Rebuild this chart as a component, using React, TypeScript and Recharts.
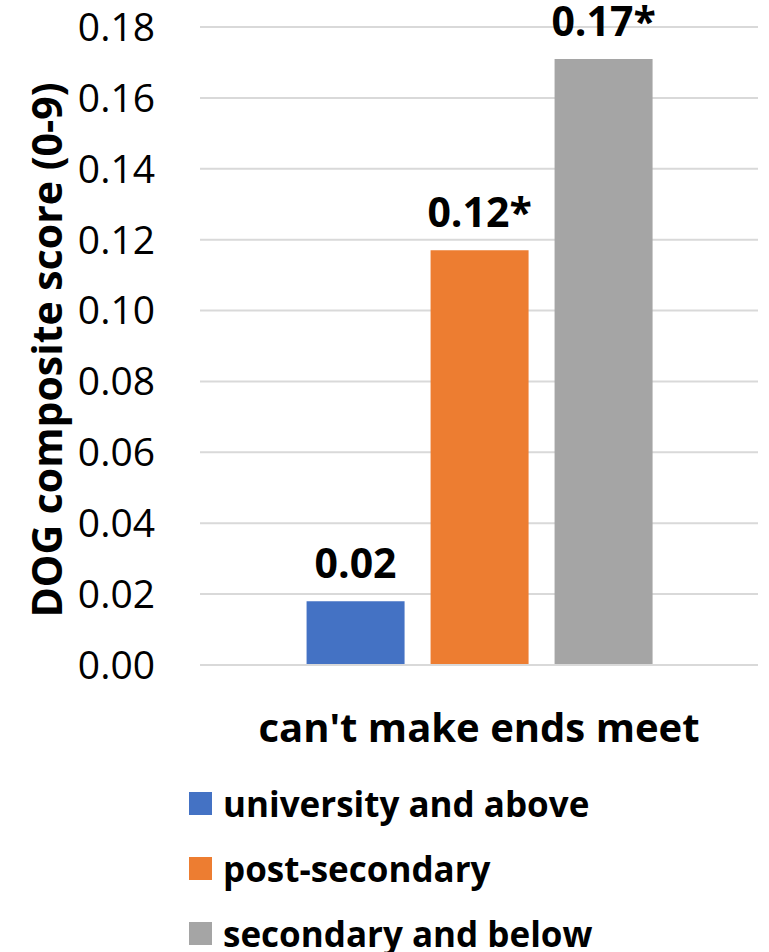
import React from "react";
import { BarChart, Bar, XAxis, YAxis, CartesianGrid, Legend, LabelList } from "recharts";

const categories = ["can't make ends meet"];
const seriesNames = ["university and above", "post-secondary", "secondary and below"];
const universityAndAbove = [0.018];
const postSecondary = [0.117];
const secondaryAndBelow = [0.171];
const universityLabels = ["0.02"];
const postSecondaryLabels = ["0.12*"];
const secondaryLabels = ["0.17*"];
const yTicks = [0, 0.02, 0.04, 0.06, 0.08, 0.1, 0.12, 0.14, 0.16, 0.18];
const colors = ["#4472C4", "#ED7D31", "#A5A5A5"];

const data = categories.map((c, i) => ({
  category: c,
  s0: universityAndAbove[i],
  s1: postSecondary[i],
  s2: secondaryAndBelow[i],
  l0: universityLabels[i],
  l1: postSecondaryLabels[i],
  l2: secondaryLabels[i],
}));

const FONT = "'Open Sans', 'Noto Sans', sans-serif";

const LegendContent = () => (
  <div style={{ fontFamily: FONT }}>
    {seriesNames.map((n, i) => (
      <div key={n} style={{ display: "flex", alignItems: "center", height: 65 }}>
        <div style={{ width: 23, height: 23, background: colors[i], marginRight: 11 }} />
        <span style={{ fontSize: 35, fontWeight: 700, color: "#000", whiteSpace: "nowrap" }}>{n}</span>
      </div>
    ))}
  </div>
);

const YTitle = (props: any) => {
  const vb = props.viewBox || {};
  const cx = 46;
  const cy = vb.y + vb.height / 2 + 4;
  return (
    <text
      x={cx}
      y={cy}
      transform={`rotate(-90, ${cx}, ${cy})`}
      textAnchor="middle"
      dominantBaseline="central"
      fontFamily={FONT}
      fontSize={41}
      fontWeight={700}
      fill="#000"
    >
      DOG composite score (0-9)
    </text>
  );
};

export default function App() {
  return (
    <div style={{ position: "absolute", left: 0, top: 0, width: 769, height: 952 }}>
      <BarChart
        width={769}
        height={952}
        data={data}
        margin={{ top: 27, right: 11, left: 0, bottom: 0 }}
        barCategoryGap="19.1%"
        barGap={26}
      >
        <CartesianGrid vertical={false} stroke="#d9d9d9" strokeWidth={2} />
        <XAxis
          dataKey="category"
          height={287}
          tickLine={false}
          axisLine={{ stroke: "#d9d9d9", strokeWidth: 2 }}
          tickSize={0}
          tickMargin={49}
          tick={{ fontFamily: FONT, fontSize: 40, fontWeight: 700, fill: "#000" }}
        />
        <YAxis
          width={200}
          domain={[0, 0.18]}
          ticks={yTicks}
          tickFormatter={(v: number) => v.toFixed(2)}
          tickLine={false}
          axisLine={false}
          tickSize={0}
          tickMargin={45}
          tick={{ fontFamily: FONT, fontSize: 39, fill: "#000" }}
          label={<YTitle />}
        />
        <Legend
          layout="horizontal"
          verticalAlign="middle"
          align="center"
          content={<LegendContent />}
          wrapperStyle={{ top: 771, left: 189, width: 570 }}
        />
        {["s0", "s1", "s2"].map((k, i) => (
          <Bar key={k} dataKey={k} name={seriesNames[i]} fill={colors[i]} isAnimationActive={false}>
            <LabelList
              dataKey={`l${i}`}
              position="top"
              offset={23}
              style={{ fontFamily: FONT, fontSize: 41, fontWeight: 700, fill: "#000" }}
            />
          </Bar>
        ))}
      </BarChart>
    </div>
  );
}
